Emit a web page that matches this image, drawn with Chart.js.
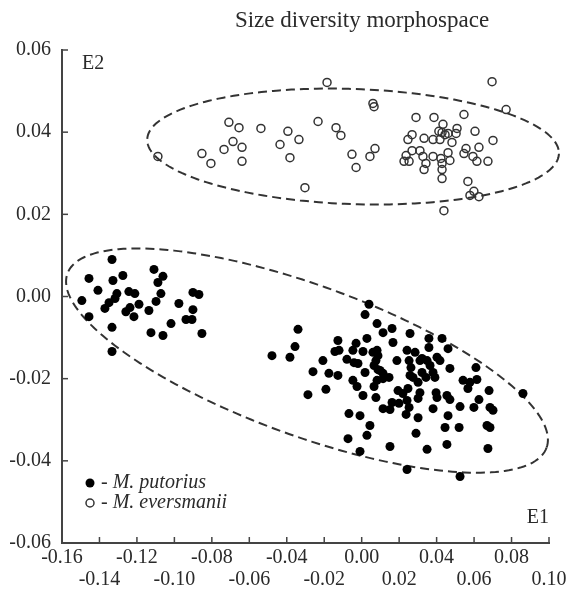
<!DOCTYPE html>
<html>
<head>
<meta charset="utf-8">
<script src="https://cdn.jsdelivr.net/npm/chart.js@4.4.1/dist/chart.umd.min.js"></script>
<style>
  html, body { margin: 0; padding: 0; background: #fff; }
</style>
</head>
<body>
<canvas id="chart" width="567" height="590"></canvas>
<script>
// axis ticks
const xTicks = [-0.16, -0.14, -0.12, -0.10, -0.08, -0.06, -0.04, -0.02, 0.00, 0.02, 0.04, 0.06, 0.08, 0.10];
const yTicks = [-0.06, -0.04, -0.02, 0.00, 0.02, 0.04, 0.06];

// M. putorius (filled) - E1 / E2 scores
const putoriusE1 = [
  -0.1333, -0.1456, -0.1328, -0.1275, -0.1408, -0.1494, -0.1307, -0.1317, -0.1349, -0.1371,
  -0.1243, -0.1211, -0.1189, -0.1237, -0.1259, -0.1216, -0.1136, -0.1456, -0.1333, -0.1333,
  -0.1109, -0.1061, -0.1088, -0.1072, -0.1098, -0.1125, -0.1061, -0.1018, -0.0976, -0.0901,
  -0.0869, -0.0901, -0.0938, -0.0906, -0.0853,
  -0.0479, -0.0383, -0.0356, -0.0340, -0.0287, -0.0260, -0.0207, -0.0191, -0.0175, -0.0127,
  -0.0127, -0.0143, -0.0121, -0.0079, -0.0047, -0.0030, -0.0047, -0.0025, 0.0007, 0.0018,
  0.0007, 0.0028, 0.0039, 0.0018, 0.0082, 0.0114, 0.0162, 0.0060, 0.0076, 0.0066,
  0.0087, 0.0082, 0.0066, 0.0076, 0.0114, 0.0146, 0.0114, 0.0151, 0.0167, 0.0188,
  0.0194, 0.0162, 0.0220, 0.0199, 0.0242, 0.0258, 0.0253, 0.0263, 0.0274, 0.0247,
  0.0242, 0.0253, 0.0237, 0.0285, 0.0311, 0.0322, 0.0301, 0.0311, 0.0301, 0.0301,
  0.0290, 0.0359, 0.0359, 0.0349, 0.0343, 0.0365, 0.0381, 0.0391, 0.0397, 0.0402,
  0.0381, 0.0429, 0.0461, 0.0402, 0.0418, 0.0471, 0.0455, 0.0471, 0.0525, 0.0461,
  0.0445, 0.0520, 0.0541, 0.0567, 0.0578, 0.0610, 0.0615, 0.0626, 0.0599, 0.0680,
  0.0685, 0.0701, 0.0669, 0.0685, 0.0674, 0.0861, 0.0455, 0.0349, 0.0151, -0.0009,
  -0.0073, 0.0028, 0.0044, -0.0068, -0.0009, 0.0242, 0.0525, -0.0041, -0.0020, 0.0082,
  0.0087, 0.0098, 0.0114, 0.0258, 0.0322
];
const putoriusE2 = [
  0.0090, 0.0044, 0.0039, 0.0051, 0.0015, -0.0010, 0.0007, -0.0005, -0.0015, -0.0029,
  0.0012, 0.0007, -0.0019, -0.0027, -0.0037, -0.0049, -0.0034, -0.0049, -0.0075, -0.0134,
  0.0066, 0.0049, 0.0034, 0.0007, -0.0012, -0.0088, -0.0095, -0.0066, -0.0017, 0.0010,
  0.0005, -0.0032, -0.0056, -0.0056, -0.0090,
  -0.0144, -0.0148, -0.0122, -0.0080, -0.0239, -0.0183, -0.0156, -0.0226, -0.0187, -0.0192,
  -0.0107, -0.0134, -0.0131, -0.0153, -0.0131, -0.0114, -0.0204, -0.0219, -0.0241, -0.0185,
  -0.0134, -0.0102, -0.0019, -0.0044, -0.0066, -0.0088, -0.0078, -0.0136, -0.0156, -0.0168,
  -0.0178, -0.0204, -0.0219, -0.0246, -0.0200, -0.0197, -0.0273, -0.0275, -0.0112, -0.0156,
  -0.0229, -0.0258, -0.0236, -0.0260, -0.0131, -0.0090, -0.0156, -0.0173, -0.0197, -0.0224,
  -0.0253, -0.0270, -0.0287, -0.0136, -0.0156, -0.0185, -0.0209, -0.0234, -0.0248, -0.0295,
  -0.0333, -0.0102, -0.0124, -0.0156, -0.0197, -0.0168, -0.0185, -0.0197, -0.0234, -0.0246,
  -0.0273, -0.0102, -0.0127, -0.0148, -0.0156, -0.0175, -0.0241, -0.0251, -0.0268, -0.0290,
  -0.0319, -0.0319, -0.0204, -0.0224, -0.0209, -0.0173, -0.0202, -0.0251, -0.0270, -0.0229,
  -0.0270, -0.0277, -0.0314, -0.0319, -0.0370, -0.0236, -0.0360, -0.0372, -0.0365, -0.0377,
  -0.0346, -0.0338, -0.0314, -0.0285, -0.0290, -0.0421, -0.0438, -0.0161, -0.0163, -0.0131,
  -0.0144, -0.0180, -0.0187, -0.0192, -0.0151
];

// M. eversmanii (open)
const eversmaniiE1 = [
  -0.1088, -0.0853, -0.0805, -0.0735, -0.0709, -0.0655, -0.0687, -0.0639, -0.0639, -0.0538,
  -0.0436, -0.0394, -0.0335, -0.0383, -0.0303, -0.0233, -0.0185, 0.0066, -0.0137, -0.0111,
  -0.0052, -0.0030, 0.0044, 0.0071, 0.0696, 0.0771, 0.0290, 0.0386, 0.0546, 0.0434,
  0.0509, 0.0605, 0.0269, 0.0247, 0.0333, 0.0381, 0.0418, 0.0429, 0.0461, 0.0504,
  0.0482, 0.0701, 0.0269, 0.0311, 0.0237, 0.0226, 0.0253, 0.0327, 0.0343, 0.0333,
  0.0381, 0.0423, 0.0461, 0.0471, 0.0429, 0.0429, 0.0429, 0.0557, 0.0626, 0.0546,
  0.0594, 0.0615, 0.0674, 0.0567, 0.0599, 0.0578, 0.0626, 0.0439, 0.0412, 0.0060,
  0.0445
];
const eversmaniiE2 = [
  0.0341, 0.0348, 0.0324, 0.0358, 0.0424, 0.0411, 0.0377, 0.0363, 0.0329, 0.0409,
  0.0370, 0.0402, 0.0382, 0.0338, 0.0265, 0.0426, 0.0521, 0.0462, 0.0411, 0.0392,
  0.0346, 0.0314, 0.0341, 0.0360, 0.0523, 0.0455, 0.0436, 0.0436, 0.0443, 0.0419,
  0.0409, 0.0402, 0.0394, 0.0382, 0.0385, 0.0382, 0.0382, 0.0399, 0.0397, 0.0397,
  0.0375, 0.0380, 0.0355, 0.0355, 0.0343, 0.0329, 0.0329, 0.0341, 0.0324, 0.0309,
  0.0341, 0.0336, 0.0350, 0.0331, 0.0324, 0.0309, 0.0287, 0.0360, 0.0363, 0.0348,
  0.0341, 0.0329, 0.0329, 0.0280, 0.0256, 0.0246, 0.0243, 0.0209, 0.0402, 0.0470,
  0.0394
];

// dashed group ellipses: centre + two conjugate half-axes, in data units
const groupEllipses = [
  { cx: -0.0046, cy: 0.0365, ax: 0.1099, ay: -0.00175, bx: -0.00107, by: -0.0140 },
  { cx: -0.0292, cy: -0.0156, ax: 0.1279, ay: -0.0212, bx: -0.0137, by: -0.0172 }
];

const toPoints = (xs, ys) => xs.map((x, i) => ({ x: x, y: ys[i] }));
const fmt = v => (Math.abs(v) < 1e-9 ? 0 : v).toFixed(2);

const SERIF = '"Liberation Serif", "Times New Roman", serif';
const INK = '#2a2a2a';

const decorations = {
  id: 'decorations',
  beforeDatasetsDraw(chart) {
    const { ctx, scales: { x, y } } = chart;
    ctx.save();
    ctx.strokeStyle = '#333';
    ctx.lineWidth = 2;
    ctx.setLineDash([9, 5]);
    groupEllipses.forEach(e => {
      ctx.beginPath();
      for (let i = 0; i <= 200; i++) {
        const t = i / 200 * Math.PI * 2;
        const px = x.getPixelForValue(e.cx + e.ax * Math.cos(t) + e.bx * Math.sin(t));
        const py = y.getPixelForValue(e.cy + e.ay * Math.cos(t) + e.by * Math.sin(t));
        if (i === 0) ctx.moveTo(px, py); else ctx.lineTo(px, py);
      }
      ctx.closePath();
      ctx.stroke();
    });
    ctx.restore();
  },
  afterDraw(chart) {
    const { ctx, chartArea: a, scales: { x, y } } = chart;
    ctx.save();
    // inward tick marks
    ctx.strokeStyle = '#444';
    ctx.lineWidth = 1.5;
    xTicks.forEach(v => {
      const px = x.getPixelForValue(v);
      ctx.beginPath(); ctx.moveTo(px, a.bottom); ctx.lineTo(px, a.bottom - 6); ctx.stroke();
    });
    yTicks.forEach(v => {
      const py = y.getPixelForValue(v);
      ctx.beginPath(); ctx.moveTo(a.left, py); ctx.lineTo(a.left + 6, py); ctx.stroke();
    });

    ctx.fillStyle = INK;
    ctx.textBaseline = 'middle';
    ctx.font = '23px ' + SERIF;
    ctx.textAlign = 'center';
    ctx.fillText('Size diversity morphospace', 362, 21);

    ctx.font = '20px ' + SERIF;
    ctx.textAlign = 'left';
    ctx.fillText('E2', 82, 64);
    ctx.textAlign = 'right';
    ctx.fillText('E1', 549, 518);

    // legend
    ctx.textAlign = 'left';
    ctx.font = 'italic 20px ' + SERIF;
    ctx.beginPath(); ctx.arc(90, 483, 4.5, 0, Math.PI * 2); ctx.fillStyle = '#000'; ctx.fill();
    ctx.beginPath(); ctx.arc(90, 503, 4, 0, Math.PI * 2);
    ctx.strokeStyle = '#333'; ctx.lineWidth = 1.5; ctx.stroke();
    ctx.fillStyle = INK;
    ctx.fillText('- M. putorius', 101, 483);
    ctx.fillText('- M. eversmanii', 101, 503);
    ctx.restore();
  }
};

new Chart(document.getElementById('chart'), {
  type: 'scatter',
  data: {
    datasets: [
      {
        label: 'M. putorius',
        data: toPoints(putoriusE1, putoriusE2),
        pointRadius: 4.5,
        pointBackgroundColor: '#000',
        pointBorderWidth: 0
      },
      {
        label: 'M. eversmanii',
        data: toPoints(eversmaniiE1, eversmaniiE2),
        pointRadius: 4,
        pointBackgroundColor: 'rgba(255,255,255,0)',
        pointBorderColor: '#333',
        pointBorderWidth: 1.5
      }
    ]
  },
  options: {
    responsive: false,
    animation: false,
    layout: { padding: { top: 50, right: 18, left: 0, bottom: 0 } },
    plugins: { legend: { display: false }, tooltip: { enabled: false } },
    scales: {
      x: {
        type: 'linear',
        min: -0.16,
        max: 0.10,
        afterBuildTicks: s => { s.ticks = xTicks.map(v => ({ value: v })); },
        afterFit: s => { s.height = 47; },
        grid: { display: false },
        border: { display: true, color: '#444', width: 2 },
        ticks: {
          autoSkip: false,
          maxRotation: 0,
          padding: -4,
          color: INK,
          font: { family: SERIF, size: 20, lineHeight: 1.1 },
          callback: (v, i) => (i % 2 ? ['', fmt(v)] : [fmt(v)])
        }
      },
      y: {
        type: 'linear',
        min: -0.06,
        max: 0.06,
        afterBuildTicks: s => { s.ticks = yTicks.map(v => ({ value: v })); },
        afterFit: s => { s.width = 62; },
        grid: { display: false },
        border: { display: true, color: '#444', width: 2 },
        ticks: {
          padding: 3,
          color: INK,
          font: { family: SERIF, size: 20 },
          callback: v => fmt(v)
        }
      }
    }
  },
  plugins: [decorations]
});
</script>
</body>
</html>
